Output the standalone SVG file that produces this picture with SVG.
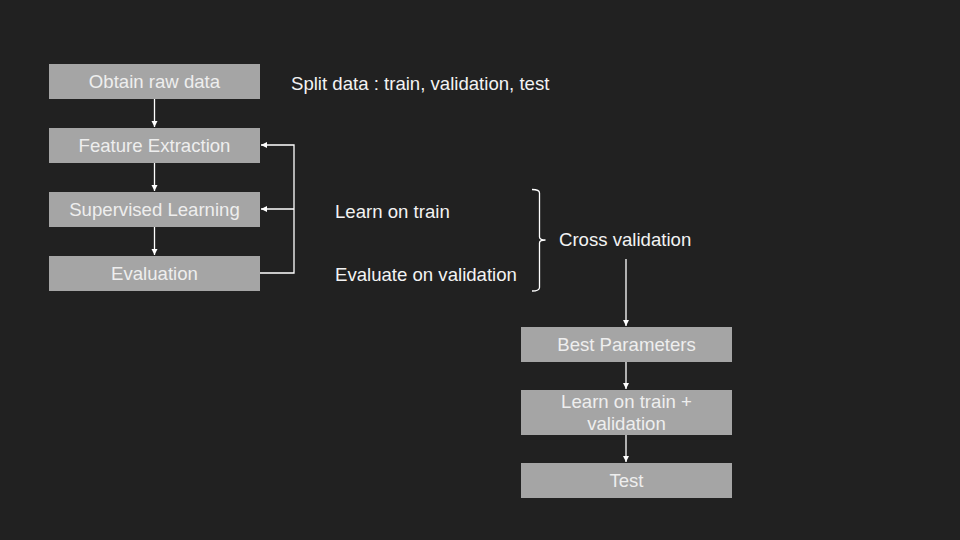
<svg xmlns="http://www.w3.org/2000/svg" width="960" height="540" viewBox="0 0 960 540">
<defs>
<style>
.box{fill:#a5a5a5;}
.bt{font-family:"Liberation Sans",Arial,sans-serif;font-size:18.6px;fill:#eeeeee;text-anchor:middle;}
.lt{font-family:"Liberation Sans",Arial,sans-serif;font-size:18.6px;fill:#f3f3f3;}
.ln{stroke:#ffffff;stroke-width:1.3;fill:none;}
</style>
<marker id="ah" markerWidth="8" markerHeight="8" refX="6" refY="3" orient="auto" markerUnits="userSpaceOnUse">
<path d="M0,0 L6,3 L0,6 z" fill="#ffffff"/>
</marker>
</defs>
<rect width="960" height="540" fill="#212121"/>
<g id="n1"><rect class="box" x="49" y="64" width="211" height="35"/><text class="bt" x="154.5" y="88">Obtain raw data</text></g>
<g id="n2"><rect class="box" x="49" y="128" width="211" height="35"/><text class="bt" x="154.5" y="152">Feature Extraction</text></g>
<g id="n3"><rect class="box" x="49" y="192" width="211" height="35"/><text class="bt" x="154.5" y="216">Supervised Learning</text></g>
<g id="n4"><rect class="box" x="49" y="256" width="211" height="35"/><text class="bt" x="154.5" y="280">Evaluation</text></g>
<g id="n5"><rect class="box" x="521" y="327" width="211" height="35"/><text class="bt" x="626.5" y="351">Best Parameters</text></g>
<g id="n6"><rect class="box" x="521" y="390" width="211" height="45"/><text class="bt" x="626.5" y="408">Learn on train +</text><text class="bt" x="626.5" y="430">validation</text></g>
<g id="n7"><rect class="box" x="521" y="463" width="211" height="35"/><text class="bt" x="626.5" y="487">Test</text></g>
<g id="labels">
<text class="lt" x="291" y="90">Split data : train, validation, test</text>
<text class="lt" x="335" y="218">Learn on train</text>
<text class="lt" x="335" y="281">Evaluate on validation</text>
<text class="lt" x="559" y="246">Cross validation</text>
</g>
<g id="connectors">
<line class="ln" x1="154.5" y1="99" x2="154.5" y2="127" marker-end="url(#ah)"/>
<line class="ln" x1="154.5" y1="163" x2="154.5" y2="191" marker-end="url(#ah)"/>
<line class="ln" x1="154.5" y1="227" x2="154.5" y2="255" marker-end="url(#ah)"/>
<polyline class="ln" points="260,273 294,273 294,145 261,145" marker-end="url(#ah)"/>
<line class="ln" x1="294" y1="209" x2="261" y2="209" marker-end="url(#ah)"/>
<line class="ln" x1="626" y1="259" x2="626" y2="326" marker-end="url(#ah)"/>
<line class="ln" x1="626" y1="362" x2="626" y2="389" marker-end="url(#ah)"/>
<line class="ln" x1="626" y1="435" x2="626" y2="462" marker-end="url(#ah)"/>
<path class="ln" d="M532,189.5 Q539.5,189.5 539.5,193 L539.5,237 Q539.5,240 545.5,240 Q539.5,240 539.5,243 L539.5,287.5 Q539.5,291 532,291"/>
</g>
</svg>
